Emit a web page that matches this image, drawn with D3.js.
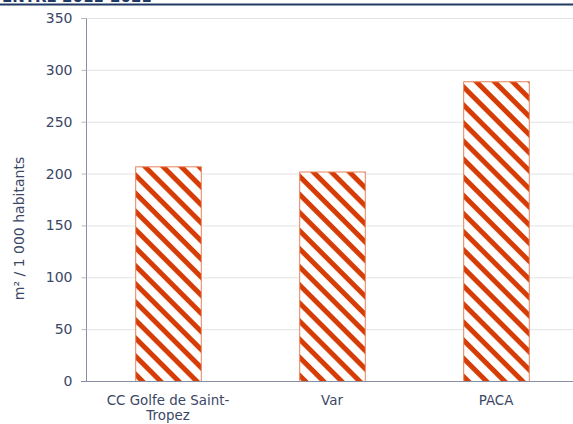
<!DOCTYPE html>
<html><head><meta charset="utf-8">
<script src="https://cdn.jsdelivr.net/npm/d3@7"></script>
<style>body{margin:0;background:#fff}svg{display:block}</style>
</head><body>
<svg id="c" width="573" height="424"></svg>
<script>
const categories = ["CC Golfe de Saint-Tropez", "Var", "PACA"];
const categoryLines = [["CC Golfe de Saint-", "Tropez"], ["Var"], ["PACA"]];
const values = [207, 202, 289];
const yTicks = [0, 50, 100, 150, 200, 250, 300, 350];
const yTitle = "m² / 1 000 habitants";
const titleText = "ENTRE 2011-2021";

const svg = d3.select("#c");
const W = 573, H = 424;
const m = {left: 86, right: -5, top: 18, bottom: 43};
const font = "Verdana, 'DejaVu Sans', sans-serif";
const textCol = "#3b4766";

const defs = svg.append("defs");
const pat = defs.append("pattern").attr("id","hatch").attr("patternUnits","userSpaceOnUse")
  .attr("width",12.8).attr("height",12.8).attr("patternTransform","rotate(45)");
pat.append("rect").attr("width",12.8).attr("height",12.8).attr("fill","#fff");
pat.append("rect").attr("x",0).attr("y",0).attr("width",12.8).attr("height",5).attr("fill","#d63c05");

// title remnant
svg.append("text").attr("x",2).attr("y",2).attr("font-family",font).attr("font-weight","bold")
  .attr("font-size",15).attr("fill","#1f3864").text(titleText);
svg.append("line").attr("x1",0).attr("x2",W).attr("y1",4.5).attr("y2",4.5)
  .attr("stroke","#1f3864").attr("stroke-width",2);

const x = d3.scaleBand().domain(categories).range([m.left, W - m.right]).paddingInner(0.6).paddingOuter(0.3);
const y = d3.scaleLinear().domain([0,350]).range([H - m.bottom, m.top]);

// grid
svg.append("g").selectAll("line").data(yTicks.filter(d=>d>0)).join("line")
  .attr("x1",m.left).attr("x2",W).attr("y1",d=>y(d)+0.5).attr("y2",d=>y(d)+0.5)
  .attr("stroke","#e3e3e3").attr("stroke-width",1);

// y axis
const ya = svg.append("g").attr("transform",`translate(${m.left+0.5},0)`)
  .call(d3.axisLeft(y).tickValues(yTicks).tickSize(5).tickPadding(9).tickFormat(d3.format("d")));
ya.select(".domain").attr("stroke","#8a8ea3").attr("d",`M-5,${y(350)+0.5}H0V${y(0)+0.5}`);
ya.selectAll(".tick line").attr("stroke","#b5b8c6");
ya.selectAll(".tick text").attr("font-family",font).attr("font-size",14).attr("fill",textCol);
ya.selectAll(".tick").attr("transform",d=>`translate(0,${y(d)+0.5})`);

// bars
svg.append("g").selectAll("rect").data(values).join("rect")
  .attr("x",(d,i)=>x(categories[i])+0.5).attr("width",x.bandwidth())
  .attr("y",d=>y(d)+0.5).attr("height",d=>y(0)-y(d))
  .attr("fill","url(#hatch)").attr("stroke","#e8825c").attr("stroke-width",1);

// x axis line
svg.append("line").attr("x1",m.left-5).attr("x2",W).attr("y1",y(0)+0.5).attr("y2",y(0)+0.5)
  .attr("stroke","#8a8ea3").attr("stroke-width",1);

// x labels
const xl = svg.append("g");
categories.forEach((c,i)=>{
  const cx = x(c) + x.bandwidth()/2;
  categoryLines[i].forEach((ln,j)=>{
    xl.append("text").attr("x",cx).attr("y",y(0)+24+j*15).attr("text-anchor","middle")
      .attr("font-family",font).attr("font-size",13.4).attr("fill",textCol).text(ln);
  });
});

// y title
svg.append("text").attr("transform",`translate(24,${(y(0)+y(350))/2 + 29}) rotate(-90)`)
  .attr("text-anchor","middle").attr("font-family",font).attr("font-size",14).attr("fill",textCol).text(yTitle);
</script>
</body></html>
